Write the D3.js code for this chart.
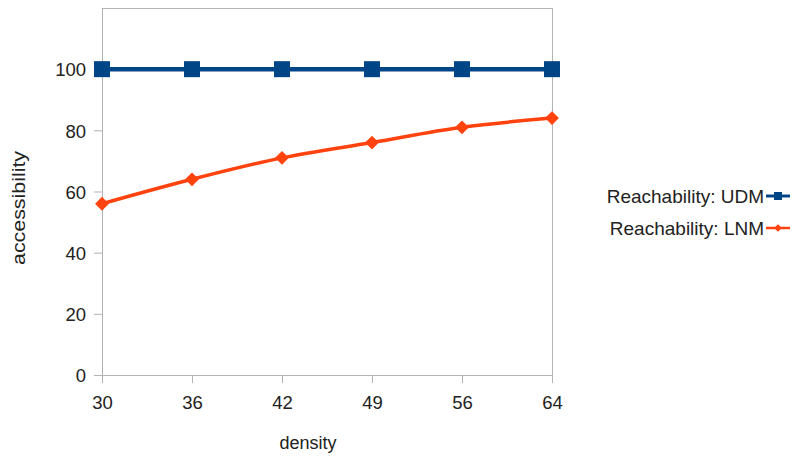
<!DOCTYPE html>
<html><head><meta charset="utf-8">
<script src="https://cdn.jsdelivr.net/npm/d3@7"></script>
<style>body{margin:0;background:#fff}text{font-family:"Liberation Sans",Arial,sans-serif;fill:#222}</style>
</head><body><svg id="c" width="794" height="460"></svg>
<script>
const categories = ["30","36","42","49","56","64"];
const udm = [100,100,100,100,100,100];
const lnm = [56,64,71,76,81,84];
const yTicks = [0,20,40,60,80,100];
const seriesNames = ["Reachability: UDM","Reachability: LNM"];
const colors = ["#004586","#ff420e"];
const FF = '"Liberation Sans",Arial,sans-serif';

const svg = d3.select("#c");
const L=102,R=552,T=8,B=375;
const x = d3.scalePoint().domain(categories).range([L,R]);
const y = d3.scaleLinear().domain([0,120]).range([B,T]);

svg.append("line").attr("x1",L).attr("x2",R).attr("y1",T+0.5).attr("y2",T+0.5).attr("stroke","#b3b3b3");
svg.append("line").attr("x1",R+0.5).attr("x2",R+0.5).attr("y1",T).attr("y2",B).attr("stroke","#b3b3b3");

const ya = svg.append("g").attr("transform",`translate(${L},0)`)
  .call(d3.axisLeft(y).tickValues(yTicks).tickSize(8).tickPadding(8));
ya.select(".domain").attr("stroke","#b3b3b3").attr("d",`M0.5,${B}V${T}`);
ya.selectAll(".tick line").attr("stroke","#b3b3b3");
ya.selectAll("text").attr("font-size",18.5).style("font-family",FF).attr("fill","#222").attr("dy","0.36em");

const xa = svg.append("g").attr("transform",`translate(0,${B})`)
  .call(d3.axisBottom(x).tickSize(8).tickPadding(13));
xa.select(".domain").attr("stroke","#b3b3b3").attr("d",`M${L},0.5H${R}`);
xa.selectAll(".tick line").attr("stroke","#b3b3b3");
xa.selectAll("text").attr("font-size",18.5).style("font-family",FF).attr("fill","#222");

svg.append("text").attr("transform","translate(25,208) rotate(-90)").attr("text-anchor","middle")
  .attr("font-size",18).attr("textLength",114).attr("lengthAdjust","spacingAndGlyphs").text("accessibility");
svg.append("text").attr("x",308).attr("y",449).attr("text-anchor","middle").attr("font-size",18).text("density");

const line1 = d3.line().x((d,i)=>x(categories[i])).y(d=>y(d));
const line2 = d3.line().x((d,i)=>x(categories[i])).y(d=>y(d)).curve(d3.curveMonotoneX);

svg.append("path").attr("d",line1(udm)).attr("fill","none").attr("stroke",colors[0]).attr("stroke-width",4.5);
svg.append("path").attr("d",line2(lnm)).attr("fill","none").attr("stroke",colors[1]).attr("stroke-width",3.5);

svg.selectAll(".u").data(udm).enter().append("path")
  .attr("transform",(d,i)=>`translate(${x(categories[i])},${y(d)})`)
  .attr("d",d3.symbol().type(d3.symbolSquare).size(256)).attr("fill",colors[0]);
svg.selectAll(".l").data(lnm).enter().append("path")
  .attr("transform",(d,i)=>`translate(${x(categories[i])},${y(d)}) rotate(45)`)
  .attr("d",d3.symbol().type(d3.symbolSquare).size(95)).attr("fill",colors[1]);

const ly=[196,228];
seriesNames.forEach((n,i)=>{
  svg.append("text").attr("x",764).attr("y",ly[i]).attr("dy","0.36em").attr("text-anchor","end").attr("font-size",19).text(n);
  svg.append("line").attr("x1",766).attr("x2",790).attr("y1",ly[i]).attr("y2",ly[i]).attr("stroke",colors[i]).attr("stroke-width",i?2.5:3);
  if(i==0) svg.append("path").attr("transform",`translate(778,${ly[i]})`).attr("d",d3.symbol().type(d3.symbolSquare).size(64)).attr("fill",colors[i]);
  else svg.append("path").attr("transform",`translate(778,${ly[i]}) rotate(45)`).attr("d",d3.symbol().type(d3.symbolSquare).size(30)).attr("fill",colors[i]);
});
</script></body></html>
